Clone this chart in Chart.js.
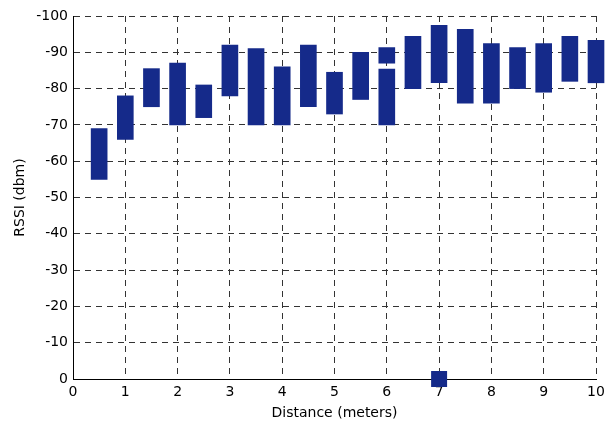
<!DOCTYPE html>
<html>
<head>
<meta charset="utf-8">
<script src="https://cdn.jsdelivr.net/npm/chart.js@4/dist/chart.umd.min.js"></script>
<style>
  html, body { margin: 0; padding: 0; background: #fff; }
  #wrap { width: 616px; height: 425px; }
</style>
</head>
<body>
<div id="wrap"><canvas id="chart" width="616" height="425"></canvas></div>
<script>
// RSSI range per distance (dbm)
let distances = [0.5, 1, 1.5, 2, 2.5, 3, 3.5, 4, 4.5, 5, 5.5, 6, 6, 6.5, 7, 7.5, 8, 8.5, 9, 9.5, 10];
let rssiLow   = [-55, -66, -75, -70, -72, -78, -70, -70, -75, -73, -77, -87, -70, -80, -81.6, -76, -76, -80, -79, -82, -81.6];
let rssiHigh  = [-69, -78, -85.5, -87, -81, -92, -91, -86, -92, -84.5, -90, -91.3, -85.4, -94.4, -97.4, -96.3, -92.4, -91.3, -92.4, -94.4, -93.3];

// lone reading
let outlierX = [7];
let outlierY = [0];

let xTicks = [0, 1, 2, 3, 4, 5, 6, 7, 8, 9, 10];
let yTicks = [-100, -90, -80, -70, -60, -50, -40, -30, -20, -10, 0];

const blue = "#152a8a";
const font = { family: "DejaVu Sans, sans-serif", size: 14 };

let ctx = document.getElementById("chart").getContext("2d");

new Chart(ctx, {
  type: "bar",
  data: {
    datasets: [
      {
        type: "bar",
        data: distances.map((d, i) => ({ x: d, y: [rssiLow[i], rssiHigh[i]] })),
        backgroundColor: blue,
        borderWidth: 0,
        barThickness: 16,
        grouped: false,
        clip: false
      },
      {
        type: "scatter",
        data: outlierX.map((d, i) => ({ x: d, y: outlierY[i] })),
        pointStyle: "rect",
        pointRadius: 11.3,
        backgroundColor: blue,
        borderWidth: 0,
        clip: false
      }
    ]
  },
  options: {
    responsive: false,
    animation: false,
    layout: { padding: { left: 0, right: 20, top: 16, bottom: 0 } },
    plugins: { legend: { display: false }, tooltip: { enabled: false } },
    scales: {
      x: {
        type: "linear",
        min: 0,
        max: 10,
        offset: false,
        afterBuildTicks: s => { s.ticks = xTicks.map(v => ({ value: v })); },
        afterFit: s => { s.height = 46; },
        ticks: { color: "#000", font: font, padding: 5, maxRotation: 0 },
        grid: { color: "#333", drawTicks: false, offset: false },
        border: { display: true, color: "#000", width: 1, dash: [6, 5] },
        title: { display: true, text: "Distance (meters)", color: "#000", font: font, padding: { top: 0, bottom: 3 } }
      },
      y: {
        min: -100,
        max: 0,
        reverse: true,
        afterBuildTicks: s => { s.ticks = yTicks.map(v => ({ value: v })); },
        afterFit: s => { s.width = 73; },
        ticks: { color: "#000", font: font, padding: 5 },
        grid: { color: "#333", drawTicks: false },
        border: { display: true, color: "#000", width: 1, dash: [6, 5] },
        title: { display: true, text: "RSSI (dbm)", color: "#000", font: font, padding: { top: 12, bottom: 0 } }
      }
    }
  }
});
</script>
</body>
</html>
